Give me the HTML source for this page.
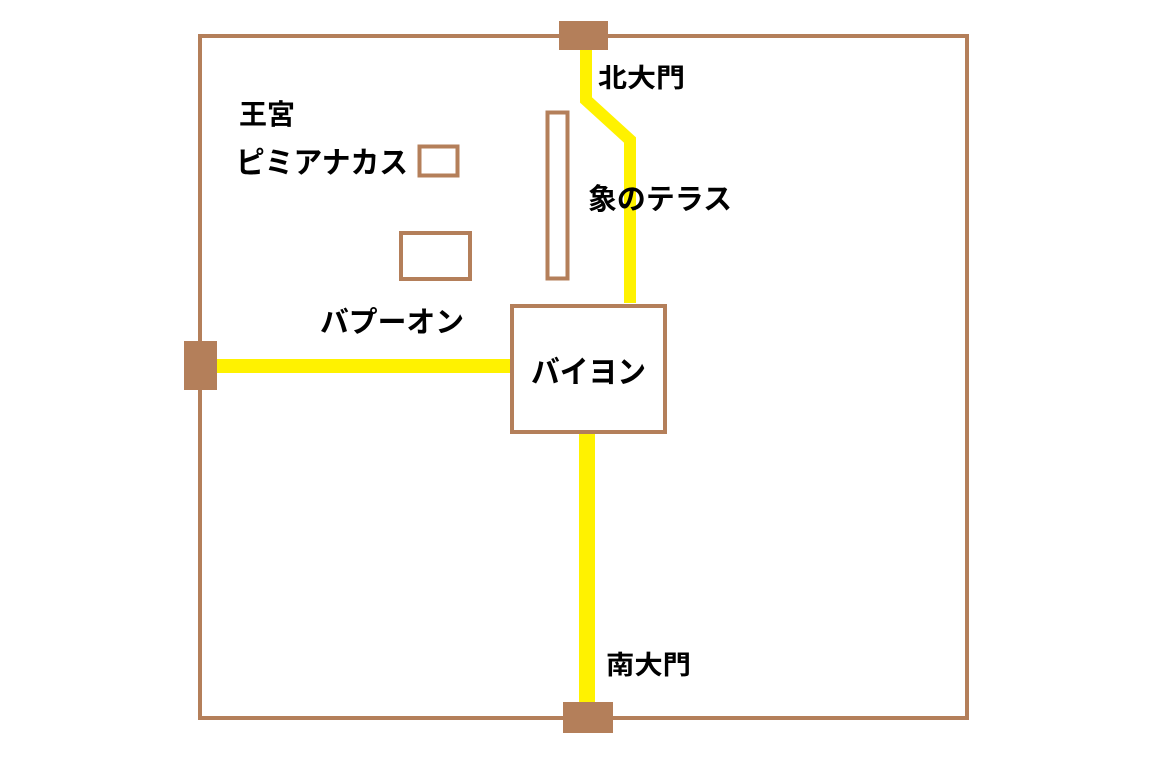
<!DOCTYPE html>
<html><head><meta charset="utf-8"><style>
html,body{margin:0;padding:0;background:#fff;}
svg{display:block}
text{font-family:"Liberation Sans","Noto Sans CJK JP",sans-serif;font-weight:bold;fill:#000}
</style></head><body>
<svg width="1165" height="768" viewBox="0 0 1165 768">
<rect x="0" y="0" width="1165" height="768" fill="#fff"/>
<g fill="none" stroke="#b47f5a">
<rect x="200" y="36" width="767" height="682" stroke-width="4"/>
</g>
<g fill="none" stroke="#fff200" stroke-linejoin="miter">
<polyline points="586,50 586,100 630,140 630,303" stroke-width="12"/>
<line x1="216" y1="366" x2="511" y2="366" stroke-width="14"/>
<line x1="587" y1="433" x2="587" y2="703" stroke-width="16"/>
</g>
<g fill="none" stroke="#b47f5a">
<rect x="547.5" y="112.5" width="20" height="166" stroke-width="4"/>
<rect x="419.5" y="146.5" width="38" height="29" stroke-width="4"/>
<rect x="401" y="233" width="69" height="46" stroke-width="4"/>
<rect x="512" y="306" width="153" height="126" stroke-width="4"/>
</g>
<g fill="#b47f5a">
<rect x="559" y="21" width="49" height="29"/>
<rect x="184" y="341" width="33" height="49"/>
<rect x="563" y="702" width="50" height="31"/>
</g>
<text x="239" y="124" font-size="28" textLength="56" lengthAdjust="spacingAndGlyphs">王宮</text>
<text x="236" y="173" font-size="30" textLength="172" lengthAdjust="spacingAndGlyphs">ピミアナカス</text>
<text x="598" y="87" font-size="26" textLength="87" lengthAdjust="spacingAndGlyphs">北大門</text>
<text x="588" y="209" font-size="29" textLength="144" lengthAdjust="spacingAndGlyphs">象のテラス</text>
<text x="320" y="332" font-size="29" textLength="144" lengthAdjust="spacingAndGlyphs">バプーオン</text>
<text x="531" y="383" font-size="31" textLength="115" lengthAdjust="spacingAndGlyphs">バイヨン</text>
<text x="606" y="674" font-size="26" textLength="85" lengthAdjust="spacingAndGlyphs">南大門</text>
</svg>
</body></html>
